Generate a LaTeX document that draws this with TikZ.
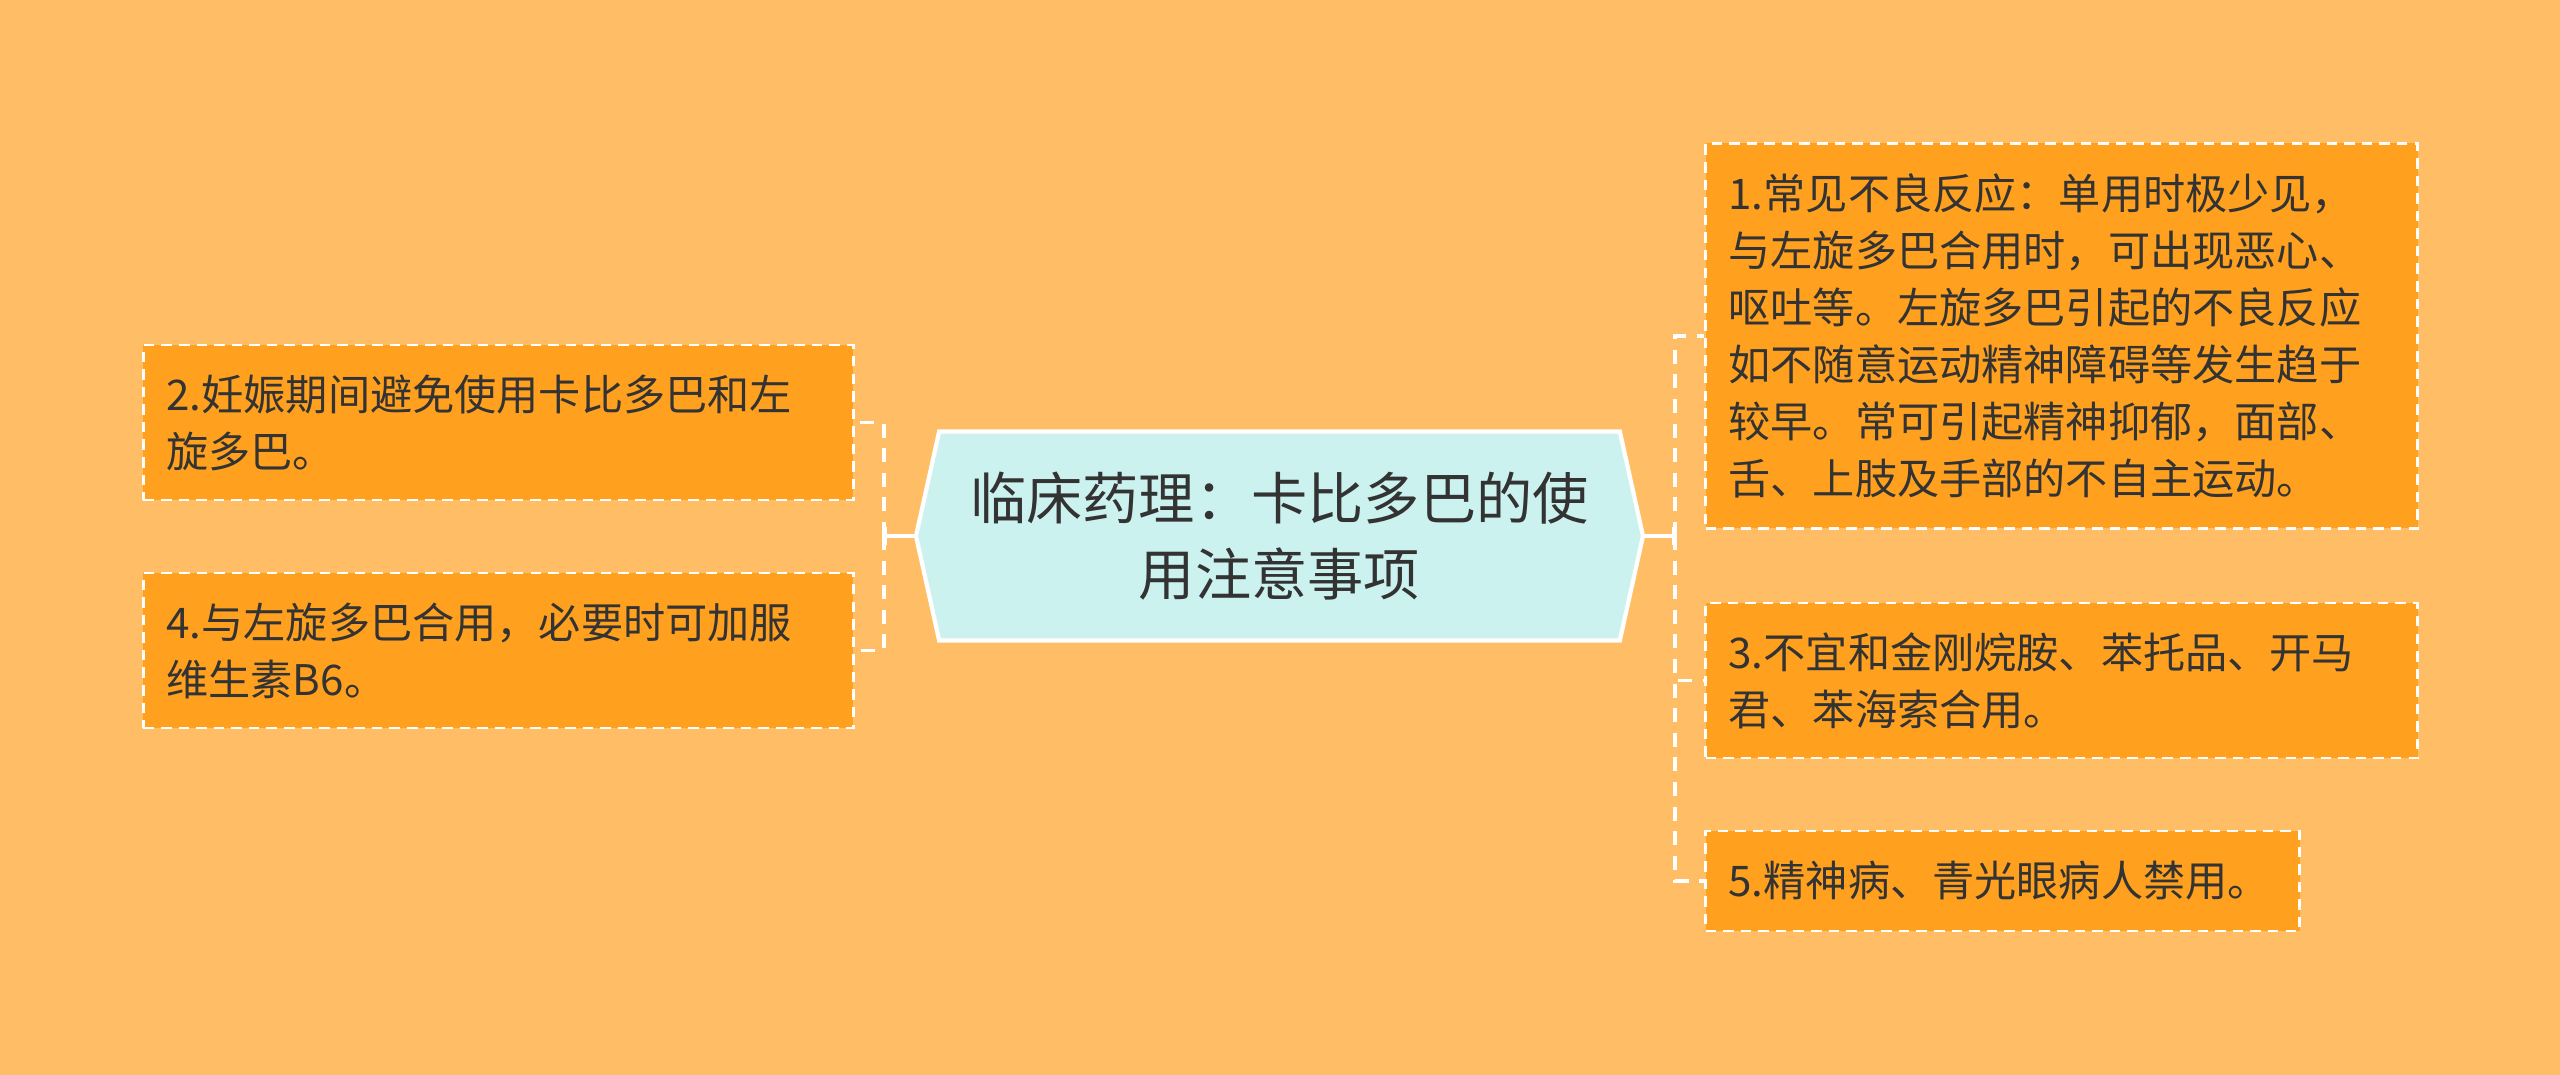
\documentclass[tikz,border=0pt]{standalone}
\usepackage{fontspec}
\setmainfont{Noto Sans CJK SC}
\usetikzlibrary{shapes.symbols, positioning, arrows.meta}
\definecolor{bgorange}{HTML}{FFBE66}
\definecolor{leaforange}{HTML}{FFA11F}
\definecolor{topiccyan}{HTML}{CCF2F0}
\definecolor{inkgray}{HTML}{333333}
\tikzset{
topic/.style={shape=signal, signal to=east and west, signal pointer angle=155, draw=white, line width=1.2pt, fill=topiccyan, text=inkgray, minimum width=7.27cm, minimum height=2.09cm, align=center, font=\fontsize{16pt}{21.8pt}\selectfont}, % the centre node
leaf/.style={draw=white, dash pattern=on 3pt off 2pt, line width=0.8pt, fill=leaforange, text=inkgray, inner xsep=0.23cm, inner ysep=0pt, align=left, font=\fontsize{12pt}{16.2pt}\selectfont}, % the orange boxes
link/.style={draw=white, line width=1pt, dash pattern=on 4pt off 3pt}, % dashed branches
stem/.style={draw=white, line width=1pt, -{Bar[width=5pt]}}, % short line out of the centre node
}

\begin{document}
\begin{tikzpicture}
        \fill[bgorange] (0,0) rectangle (25.6,10.75);
        \node[topic] (T) at (12.795,5.39) {临床药理：卡比多巴的使\\用注意事项};

        \node[leaf, text width=6.66cm, minimum height=3.85cm, right=0.59cm of T, yshift=2cm] (N1) {1.常见不良反应：单用时极少见，\\与左旋多巴合用时，可出现恶心、\\呕吐等。左旋多巴引起的不良反应\\如不随意运动精神障碍等发生趋于\\较早。常可引起精神抑郁，面部、\\舌、上肢及手部的不自主运动。};
        \node[leaf, text width=6.66cm, minimum height=1.55cm, right=0.59cm of T, yshift=-1.445cm] (N3) {3.不宜和金刚烷胺、苯托品、开马\\君、苯海索合用。};
        \node[leaf, text width=5.48cm, minimum height=1.0cm, right=0.59cm of T, yshift=-3.45cm] (N5) {5.精神病、青光眼病人禁用。};
        \node[leaf, text width=6.64cm, minimum height=1.55cm, left=0.59cm of T, yshift=1.135cm] (N2) {2.妊娠期间避免使用卡比多巴和左\\旋多巴。};
        \node[leaf, text width=6.64cm, minimum height=1.55cm, left=0.59cm of T, yshift=-1.145cm] (N4) {4.与左旋多巴合用，必要时可加服\\维生素B6。};

        \coordinate[right=0.3cm of T.east] (JR);
        \coordinate[left=0.3cm of T.west] (JL);
        \draw[stem] (T.east) -- (JR);
        \draw[stem] (T.west) -- (JL);
        \foreach \n in {N1,N3,N5} \draw[link] (JR) |- (\n.west);
        \foreach \n in {N2,N4} \draw[link] (JL) |- (\n.east);
    \end{tikzpicture}
\end{document}
